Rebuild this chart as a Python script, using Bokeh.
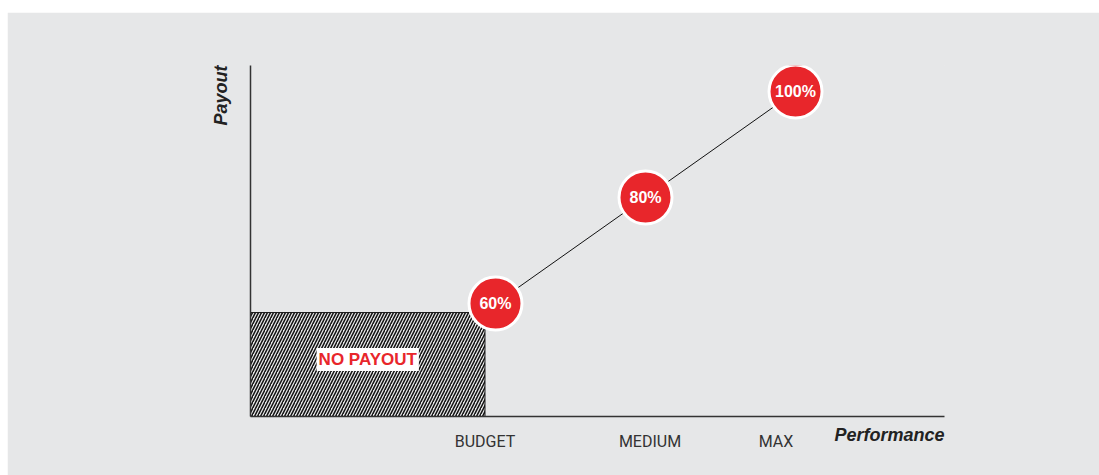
import math
from bokeh.plotting import figure
from bokeh.models import ColumnDataSource, FixedTicker, Label, Title
from bokeh.core.properties import value
from bokeh.embed import file_html
from bokeh.resources import INLINE

# ---- data ----
levels = ["BUDGET", "MEDIUM", "MAX"]
level_pos = [0.93, 2.03, 2.87]          # where the level names sit on the axis
perf = [1, 2, 3]                         # performance positions of the points
payout = [60, 80, 100]                   # payout %
payout_labels = ["60%", "80%", "100%"]
no_payout_right = 0.93                   # end of the no-payout zone (performance)
no_payout_top = 58.3                     # top of the no-payout zone (payout)

X0, X1 = -0.633, 3.993
Y0, Y1 = 38.7, 104.9

BG = "#e6e7e8"
RED = "#e8262b"

p = figure(width=1092, height=463, x_range=(X0, X1), y_range=(Y0, Y1),
           output_backend="svg", toolbar_location=None,
           min_border_left=243, min_border_right=155,
           min_border_top=53, min_border_bottom=59)
p.margin = (12, 0, 0, 7)
p.background_fill_color = BG
p.border_fill_color = BG
p.outline_line_color = BG
p.outline_line_width = 1
p.grid.visible = False

# axes
xa = p.xaxis[0]
xa.ticker = FixedTicker(ticks=level_pos)
xa.major_label_overrides = {t: l for t, l in zip(level_pos, levels)}
xa.major_tick_line_color = None
xa.minor_tick_line_color = None
xa.axis_line_color = "#333333"
xa.axis_line_width = 1.5
xa.major_label_text_font = "Roboto"
xa.major_label_text_font_size = "16px"
xa.major_label_text_color = "#333333"
xa.major_label_standoff = 9

# x axis title, ending at the right end of the axis
xa.axis_label = "Performance" + "\u00a0" * 22
xa.axis_label_align = "end"
xa.axis_label_standoff = -29
xa.axis_label_text_font = "Liberation Sans"
xa.axis_label_text_font_style = "bold italic"
xa.axis_label_text_font_size = "18px"
xa.axis_label_text_color = "#222222"

p.yaxis.ticker = FixedTicker(ticks=[])
p.yaxis.major_tick_line_color = None
p.yaxis.minor_tick_line_color = None
p.yaxis.major_label_text_alpha = 0
p.yaxis.axis_line_color = "#333333"
p.yaxis.axis_line_width = 1.5

# no payout zone
p.quad(left=[X0], right=[no_payout_right], bottom=[Y0], top=[no_payout_top],
       fill_color=BG, line_color="#111111", line_width=1,
       hatch_pattern="/", hatch_color="#111111", hatch_scale=6, hatch_weight=1.5)

p.add_layout(Label(x=(X0 + no_payout_right) / 2, y=(Y0 + no_payout_top) / 2, y_offset=5,
                   text="NO PAYOUT", text_align="center", text_baseline="middle",
                   text_font="Liberation Sans", text_font_style="bold",
                   text_font_size="17px", text_color=RED,
                   background_fill_color="white", padding=2))

src = ColumnDataSource(dict(x=perf, y=payout, t=payout_labels))
p.line("x", "y", source=src, line_color="#111111", line_width=1)
p.scatter("x", "y", source=src, size=53, fill_color=RED, line_color="white", line_width=3)
p.text("x", "y", text="t", source=src, text_align="center", text_baseline="middle",
       text_font=value("Liberation Sans"), text_font_style="bold",
       text_font_size="16px", text_color="white")

# y axis title
p.add_layout(Title(text="Payout", align="right", text_font="Liberation Sans",
                   text_font_style="bold italic", text_font_size="18px",
                   text_color="#222222", standoff=40), "left")

open("out.html", "w").write(file_html(p, INLINE))
